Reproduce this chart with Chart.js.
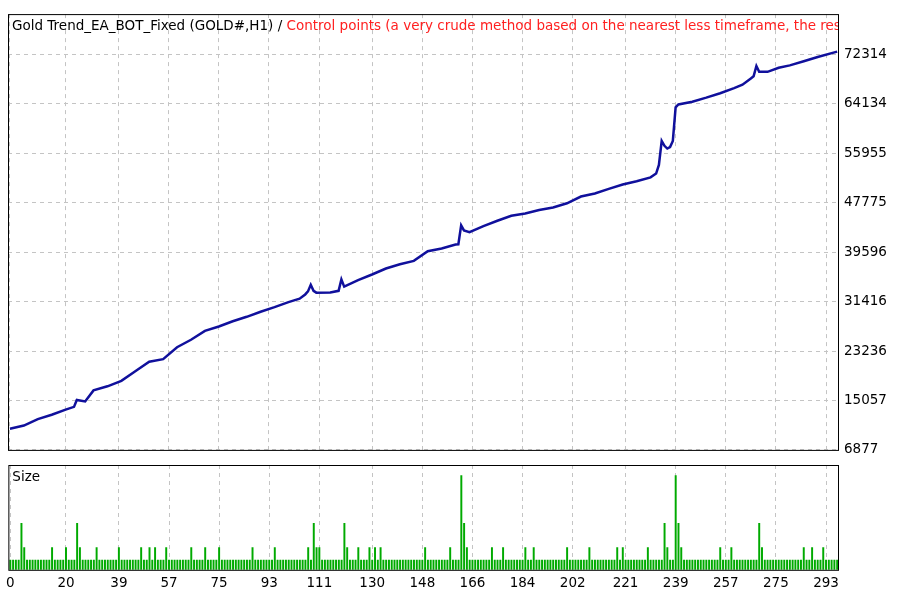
<!DOCTYPE html>
<html><head><meta charset="utf-8">
<script src="https://cdn.jsdelivr.net/npm/chart.js@4"></script>
<style>
body{margin:0;background:#fff;width:911px;height:600px;overflow:hidden;font-family:Tahoma,"DejaVu Sans",sans-serif}
#w1{position:absolute;left:0;top:0;width:911px;height:464px}
#w2{position:absolute;left:0;top:464px;width:911px;height:136px}
</style></head><body>
<div id="w1"><canvas id="c1"></canvas></div>
<div id="w2"><canvas id="c2"></canvas></div>
<script>
const xTicks=[0,20,39,57,75,93,111,130,148,166,184,202,221,239,257,275,293];
const yTicks=[6877,15057,23236,31416,39596,47775,55955,64134,72314];
const eqX=[0,5,10,15,20,23,24,27,30,35,40,45,50,55,60,65,70,75,80,85,90,95,100,104,106,107,108,109,110,115,118,119,120,125,130,135,140,145,150,155,160,161,162,163,165,170,175,180,185,190,195,200,205,210,215,220,225,230,232,233,234,235,236,237,238,239,240,245,250,255,260,263,266,267,268,269,272,276,280,285,290,297];
const eqY=[10370,10900,11960,12700,13550,14000,15137,14900,16720,17400,18310,19900,21480,21900,23870,25100,26570,27300,28160,28900,29740,30500,31330,31900,32600,33100,34190,33200,32900,32920,33200,35100,33900,34980,35900,36890,37600,38160,39750,40200,40860,40900,44040,43200,42920,43900,44800,45620,46000,46580,47000,47690,48800,49300,50070,50800,51340,51970,52600,54040,58010,57200,56740,57000,58000,63570,64040,64500,65160,65900,66750,67300,68330,68700,70400,69440,69440,70100,70500,71190,71900,72780];
const bigIdx=[4,24,109,120,163,235,240,269];
const maxIdx=[162,239];
const medIdx=[5,15,20,25,31,39,47,50,52,56,65,70,75,87,95,107,110,111,121,125,129,131,133,149,158,164,173,177,185,188,200,208,218,220,229,236,241,255,259,270,285,288,292];
const N=298;
const sizes=[];
for(let i=0;i<N;i++){let v=1;if(medIdx.includes(i))v=2.3;if(bigIdx.includes(i))v=4.8;if(maxIdx.includes(i))v=9.7;sizes.push({x:i,y:v});}
const eq=eqX.map((x,i)=>({x:x,y:eqY[i]}));
const FONT='Tahoma, "DejaVu Sans", sans-serif';
const grid={color:'#c4c4c4',tickLength:0,lineWidth:1,offset:false};
const frame={id:'frame',afterDraw(c){const a=c.chartArea,g=c.ctx;g.save();g.strokeStyle='#000';g.lineWidth=1;g.strokeRect(a.left+0.5,a.top+0.5,a.right-a.left,a.bottom-a.top);g.restore();}};
const title={id:'title',afterDatasetsDraw(c){const a=c.chartArea,g=c.ctx;g.save();g.beginPath();g.rect(a.left,a.top,a.right-a.left,a.bottom-a.top);g.clip();g.font='13.5px '+FONT;g.textBaseline='middle';g.fillStyle='#000';const t1='Gold Trend_EA_BOT_Fixed (GOLD#,H1) / ';g.fillText(t1,a.left+4,a.top+12);const w=g.measureText(t1).width;g.fillStyle='#ff2020';g.fillText('Control points (a very crude method based on the nearest less timeframe, the results must not be considered)',a.left+4+w,a.top+12);g.restore();}};
const sizeLbl={id:'sl',afterDatasetsDraw(c){const a=c.chartArea,g=c.ctx;g.save();g.font='13.5px '+FONT;g.fillStyle='#000';g.textBaseline='middle';g.fillText('Size',a.left+4,a.top+12);g.restore();}};
function xScale(show){return {type:'linear',offset:false,min:-0.7,max:297.3,afterBuildTicks(s){s.ticks=xTicks.map(v=>({value:v}));},
 grid:Object.assign({},grid),border:{display:false,dash:[4,4]},
 ticks:{display:show,color:'#000',font:{size:13.5,family:FONT},maxRotation:0,autoSkip:false,padding:6,callback:v=>String(v)}};}
Chart.defaults.animation=false;
new Chart(document.getElementById('c1'),{type:'line',
 data:{datasets:[{data:eq,borderColor:'#10109c',borderWidth:2.5,pointRadius:0,tension:0}]},
 options:{responsive:true,maintainAspectRatio:false,layout:{padding:{left:8,top:8,right:0,bottom:1}},
  plugins:{legend:{display:false},tooltip:{enabled:false}},
  scales:{x:Object.assign(xScale(false),{afterFit(s){s.height=0;}}),
   y:{position:'right',min:6877,max:78990,afterBuildTicks(s){s.ticks=yTicks.map(v=>({value:v}));},
    afterFit(s){s.width=73;},grid:Object.assign({},grid),border:{display:false,dash:[4,4]},
    ticks:{color:'#000',font:{size:13.5,family:FONT},padding:6,callback:v=>String(v)}}}},
 plugins:[title,frame]});
new Chart(document.getElementById('c2'),{type:'bar',
 data:{datasets:[{data:sizes,backgroundColor:'#00aa00',barThickness:1.3,grouped:false}]},
 options:{responsive:true,maintainAspectRatio:false,layout:{padding:{left:8,top:1,right:0,bottom:2}},
  plugins:{legend:{display:false},tooltip:{enabled:false}},
  scales:{x:xScale(true),
   y:{position:'right',min:0,max:10.8,ticks:{display:false},grid:{display:false},border:{display:false},afterFit(s){s.width=73;}}}},
 plugins:[sizeLbl,frame]});
</script></body></html>
